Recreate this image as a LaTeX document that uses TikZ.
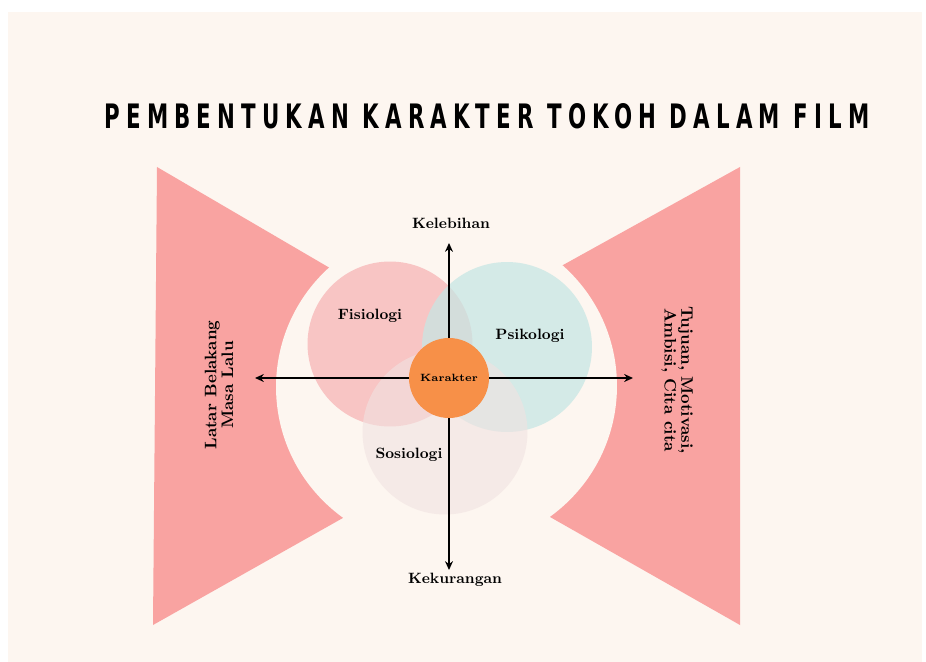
\documentclass[tikz,border=0pt]{standalone}
\usepackage{fontspec}
\usepackage{graphicx}
\newfontfamily\titlefont[LetterSpace=26]{DejaVu Sans Condensed}
\usetikzlibrary{arrows.meta}
\definecolor{cream}{HTML}{FDF6F0}
\definecolor{salmon}{HTML}{F9A3A1}
\definecolor{fisio}{HTML}{F8BDBD}
\definecolor{psiko}{HTML}{C7E6E4}
\definecolor{sosio}{HTML}{F1E2E1}
\definecolor{jingga}{HTML}{F79048}

\begin{document}
\begin{tikzpicture}[x=0.02cm, y=-0.02cm]
    \tikzstyle{venn}=[circle, inner sep=0pt];
    \tikzstyle{teks}=[font=\fontsize{8.5}{10}\selectfont\bfseries, inner sep=1pt];
    \tikzstyle{samping}=[font=\fontsize{9.5}{8.5}\selectfont\bfseries, align=center, inner sep=1pt];
    \tikzstyle{arah}=[-{Stealth[length=5pt,width=4.5pt]}, line width=0.9pt];
    % background and the two side pieces
    \fill[white] (0,0) rectangle (926,662);
    \fill[cream] (8,12) rectangle (922,662);
    \fill[salmon] (157,167) -- (554,399) -- (153,625) -- cycle;
    \fill[salmon] (740,167) -- (332,393) -- (740,625) -- cycle;
    \fill[cream] (437,387) circle[radius=3.22cm];
    \fill[cream] (456,386) circle[radius=3.22cm];
    \node (judul) at (487,116) {\resizebox{15.3cm}{0.5cm}{\titlefont\bfseries PEMBENTUKAN KARAKTER TOKOH DALAM FILM}};
    % venn
    \node[venn, minimum size=3.3cm, fill=fisio, fill opacity=0.85] (fisio) at (390,344) {};
    \node[venn, minimum size=3.4cm, fill=psiko, fill opacity=0.75] (psiko) at (507,347) {};
    \node[venn, minimum size=3.3cm, fill=sosio, fill opacity=0.6] (sosio) at (445,432) {};
    \node[venn, minimum size=1.6cm, fill=jingga] (kar) at (449,378) {\fontsize{6}{7}\selectfont\bfseries Karakter};
    \node[teks] (tfisio) at (370,316) {Fisiologi};
    \node[teks] (tpsiko) at (530,336) {Psikologi};
    \node[teks] (tsosio) at (409,455) {Sosiologi};
    % arrows
    \coordinate (atas) at (449,243);
    \coordinate (bawah) at (449,570);
    \coordinate (kiri) at (255,378);
    \coordinate (kanan) at (633,378);
    \draw[arah] (kar.north) -- (atas);
    \draw[arah] (kar.south) -- (bawah);
    \draw[arah] (kar.west) -- (kiri);
    \draw[arah] (kar.east) -- (kanan);
    \node[teks] (lebih) at (451,223) {Kelebihan};
    \node[teks] (kurang) at (455,580) {Kekurangan};
    \node[samping, rotate=90] (latar) at (219,385) {Latar Belakang\\Masa Lalu};
    \node[samping, rotate=-90] (tujuan) at (677,380) {Tujuan, Motivasi,\\Ambisi, Cita cita};
\end{tikzpicture}
\end{document}
